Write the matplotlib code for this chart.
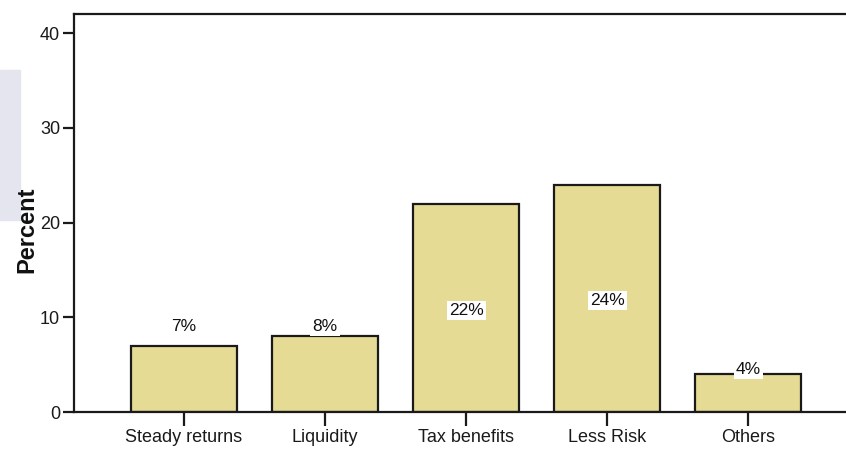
import matplotlib.pyplot as plt
from matplotlib.patches import Rectangle

categories = ["Steady returns", "Liquidity", "Tax benefits", "Less Risk", "Others"]
percent = [7, 8, 22, 24, 4]
labels = ["7%", "8%", "22%", "24%", "4%"]
label_y = [9.0, 9.0, 10.7, 11.8, 4.5]

plt.rcParams['font.family'] = ['Liberation Sans Narrow', 'Liberation Sans', 'DejaVu Sans']

fig = plt.figure(figsize=(8.46, 4.55), dpi=100)
# faint slide background strip on the left edge
fig.patches.append(Rectangle((0, 0.516), 0.024, 0.33, transform=fig.transFigure,
                             color='#e4e5ef', zorder=-5))
ax = fig.add_axes([0.0875, 0.0945, 0.927, 0.8745])
ax.set_zorder(1)
ax.patch.set_alpha(0)

x = list(range(len(categories)))
ax.bar(x, percent, width=0.75, color='#E5DB94', edgecolor='#1a1a1a', linewidth=1.6, zorder=2)

for xi, txt, yi in zip(x, labels, label_y):
    ax.text(xi, yi, txt, ha='center', va='center', fontsize=12.5, color='#111111', zorder=3,
            bbox=dict(facecolor='white', edgecolor='none', pad=1.5))

ax.set_xlim(-0.78, 4.78)
ax.set_ylim(0, 42)
ax.set_yticks([0, 10, 20, 30, 40])
ax.set_xticks(x)
ax.set_xticklabels(categories)
ax.tick_params(axis='y', direction='out', length=8, width=1.6, labelsize=13, colors='#1a1a1a', pad=2)
ax.tick_params(axis='x', direction='out', length=10, width=1.6, labelsize=13, colors='#1a1a1a', pad=2)
for s in ax.spines.values():
    s.set_linewidth(1.6)
    s.set_color('#1a1a1a')

ax.set_ylabel("Percent", fontsize=17, fontweight='bold', family='Liberation Sans', color='#111111')
ax.yaxis.set_label_coords(-0.045, 0.457)

fig.savefig("out.png", dpi=100)
